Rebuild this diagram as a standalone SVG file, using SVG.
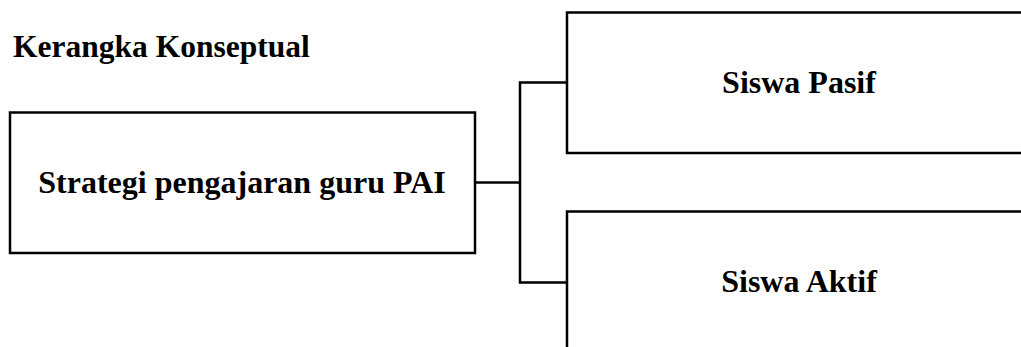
<svg xmlns="http://www.w3.org/2000/svg" width="1021" height="347" viewBox="0 0 1021 347">
<style>
.box{fill:#fff;stroke:#000;stroke-width:2.5}
.t{font-family:"Liberation Serif","Times New Roman",serif;font-weight:bold;fill:#000}
.c{fill:none;stroke:#000;stroke-width:2.5}
</style>
<rect width="1021" height="347" fill="#fff"/>
<text class="t" x="13" y="57" font-size="31.5">Kerangka Konseptual</text>
<g id="node-strategi">
<rect class="box" x="10" y="112.5" width="465" height="140.5"/>
<text class="t" x="242" y="193" font-size="32" text-anchor="middle">Strategi pengajaran guru PAI</text>
</g>
<g id="node-pasif">
<rect class="box" x="567" y="12.5" width="470" height="140.5"/>
<text class="t" x="799" y="93" font-size="32" text-anchor="middle">Siswa Pasif</text>
</g>
<g id="node-aktif">
<rect class="box" x="567" y="211.5" width="470" height="150"/>
<text class="t" x="799" y="292" font-size="32" text-anchor="middle">Siswa Aktif</text>
</g>
<g id="connectors">
<path class="c" d="M475 182.5H520"/>
<path class="c" d="M567 82.5H520V282.5H567"/>
</g>
</svg>
